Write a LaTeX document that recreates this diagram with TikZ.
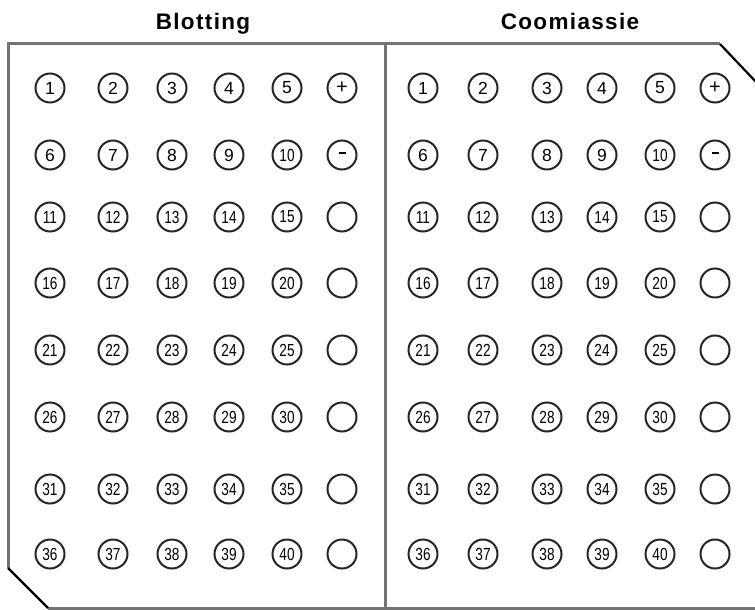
\documentclass[tikz,border=0pt]{standalone}
\usepackage{fontspec}
\usepackage{graphicx}
\setmainfont{Liberation Sans}
\begin{document}
\begin{tikzpicture}[x=1pt,y=-1pt,
  well/.style={circle,draw=black!85,line width=2pt,minimum size=29pt,inner sep=0pt,font=\fontsize{17.5}{17.5}\selectfont},
  frameline/.style={draw=black!55,line width=3pt},
  cutline/.style={draw=black,line width=2.2pt},
  titletext/.style={font=\fontsize{22.5}{26}\selectfont\bfseries\addfontfeatures{LetterSpace=6},anchor=base}]
\useasboundingbox (0,0) rectangle (755,610);
% frame coordinates
\coordinate (lb) at (8,568);
\coordinate (lt) at (8,44);
\coordinate (rt) at (720,44);
\coordinate (rc) at (757,83);
\coordinate (bl) at (48,608);
\coordinate (br) at (755,608);
\coordinate (dt) at (385,44);
\coordinate (db) at (385,610);
\draw[frameline] (lb) -- (lt) -- (rt);
\draw[frameline] (dt) -- (db);
\draw[frameline] (bl) -- (br);
\draw[cutline] (lb) -- (bl);
\draw[cutline] (rt) -- (rc);
% titles
\node[titletext] (tblot) at (203,30) {Blotting};
\node[titletext] (tcoom) at (570,30) {Coomiassie};
% wells
\foreach \r/\y in {1/88,2/155,3/217,4/283,5/350,6/417,7/489,8/554}{
  \foreach \c/\xl/\xr in {1/50/423,2/113/483,3/172/547,4/229/602,5/287/660}{
    \pgfmathtruncatemacro{\n}{(\r-1)*5+\c}
    \ifnum\n<10
      \node[well] (L\n) at (\xl,\y) {\n};
      \node[well] (R\n) at (\xr,\y) {\n};
    \else
      \node[well] (L\n) at (\xl,\y) {\scalebox{0.78}[1]{\n}};
      \node[well] (R\n) at (\xr,\y) {\scalebox{0.78}[1]{\n}};
    \fi
  }
}
\node[well,font=\fontsize{20}{20}\selectfont] (Lplus) at (342,88) {+};
\node[well,font=\fontsize{20}{20}\selectfont] (Rplus) at (715,88) {+};
\node[well] (Lminus) at (342,155) {\rule[4.5pt]{7pt}{2.5pt}};
\node[well] (Rminus) at (715,155) {\rule[4.5pt]{7pt}{2.5pt}};
\foreach \r/\y in {3/217,4/283,5/350,6/417,7/489,8/554}{
  \node[well] (Le\r) at (342,\y) {};
  \node[well] (Re\r) at (715,\y) {};
}
\end{tikzpicture}
\end{document}
